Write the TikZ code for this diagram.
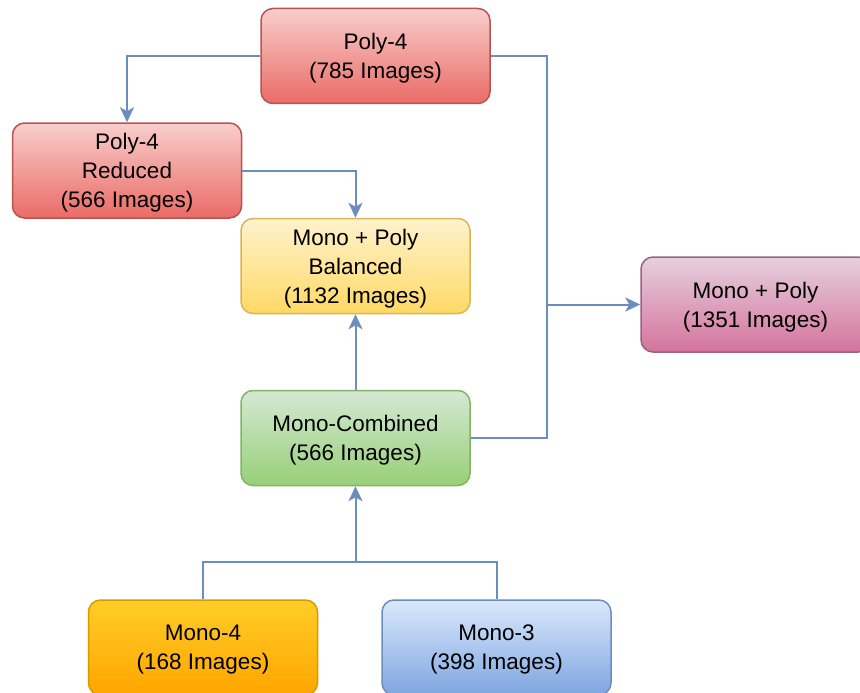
\documentclass[tikz,border=0pt]{standalone}
\usepackage{fontspec}
\setmainfont{Liberation Sans}
\usepackage{xcolor}
\usepackage{tikz}
\usetikzlibrary{arrows.meta}

% box colours: top shade, bottom shade, border
\definecolor{redtop}{HTML}{F8CECC}\definecolor{redbot}{HTML}{EA6B66}\definecolor{redline}{HTML}{B85450}
\definecolor{yeltop}{HTML}{FFF2CC}\definecolor{yelbot}{HTML}{FFD966}\definecolor{yelline}{HTML}{D6B656}
\definecolor{grntop}{HTML}{D5E8D4}\definecolor{grnbot}{HTML}{97D077}\definecolor{grnline}{HTML}{82B366}
\definecolor{pnktop}{HTML}{E6D0DE}\definecolor{pnkbot}{HTML}{D5739D}\definecolor{pnkline}{HTML}{996185}
\definecolor{orgtop}{HTML}{FFCD28}\definecolor{orgbot}{HTML}{FFA500}\definecolor{orgline}{HTML}{D79B00}
\definecolor{blutop}{HTML}{DAE8FC}\definecolor{blubot}{HTML}{7EA6E0}\definecolor{bluline}{HTML}{6C8EBF}

\tikzset{
  databox/.style={rectangle, rounded corners=12pt, line width=1.5pt,
    minimum width=229pt, minimum height=95pt, inner sep=0pt, align=center,
    text depth=0pt, font=\fontsize{22.5}{29}\selectfont},
  redbox/.style={databox, draw=redline, top color=redtop, bottom color=redbot},
  yelbox/.style={databox, draw=yelline, top color=yeltop, bottom color=yelbot},
  grnbox/.style={databox, draw=grnline, top color=grntop, bottom color=grnbot},
  pnkbox/.style={databox, draw=pnkline, top color=pnktop, bottom color=pnkbot},
  orgbox/.style={databox, draw=orgline, top color=orgtop, bottom color=orgbot},
  blubox/.style={databox, draw=bluline, top color=blutop, bottom color=blubot},
  link/.style={draw=bluline, line width=2pt, -{Stealth[length=15pt,width=14pt,inset=4pt]}},
  wire/.style={draw=bluline, line width=2pt}
}

\begin{document}
\begin{tikzpicture}[x=1pt, y=-1pt]
    \useasboundingbox (0,0) rectangle (860,693);

    % Poly sets
    \node[redbox] (poly) at (375.5,56) {Poly-4\\(785 Images)};
    \node[redbox] (polyred) at (127,170.5) {Poly-4\\Reduced\\(566 Images)};

    % merged sets
    \node[yelbox] (balanced) at (355.5,266) {Mono + Poly\\Balanced\\(1132 Images)};
    \node[pnkbox] (mixed) at (755.5,304.5) {Mono + Poly\\(1351 Images)};
    \node[grnbox] (combined) at (355.5,438) {Mono-Combined\\(566 Images)};

    % Mono sets
    \node[orgbox] (monofour) at (203,647.5) {Mono-4\\(168 Images)};
    \node[blubox] (monothree) at (496.5,647.5) {Mono-3\\(398 Images)};

    % joints
    \coordinate (bus) at (547,304.5);
    \coordinate (join) at (355.5,562);

    % connectors
    \draw[link] (poly.west) -| (polyred.north);
    \draw[link] (polyred.east) -| (balanced.north);
    \draw[link] (poly.east) -| (bus) -- (mixed.west);
    \draw[wire] (combined.east) -| (bus);
    \draw[link] (combined.north) -- (balanced.south);
    \draw[wire] (monofour.north) |- (join);
    \draw[wire] (monothree.north) |- (join);
    \draw[link] (join) -- (combined.south);
\end{tikzpicture}
\end{document}
